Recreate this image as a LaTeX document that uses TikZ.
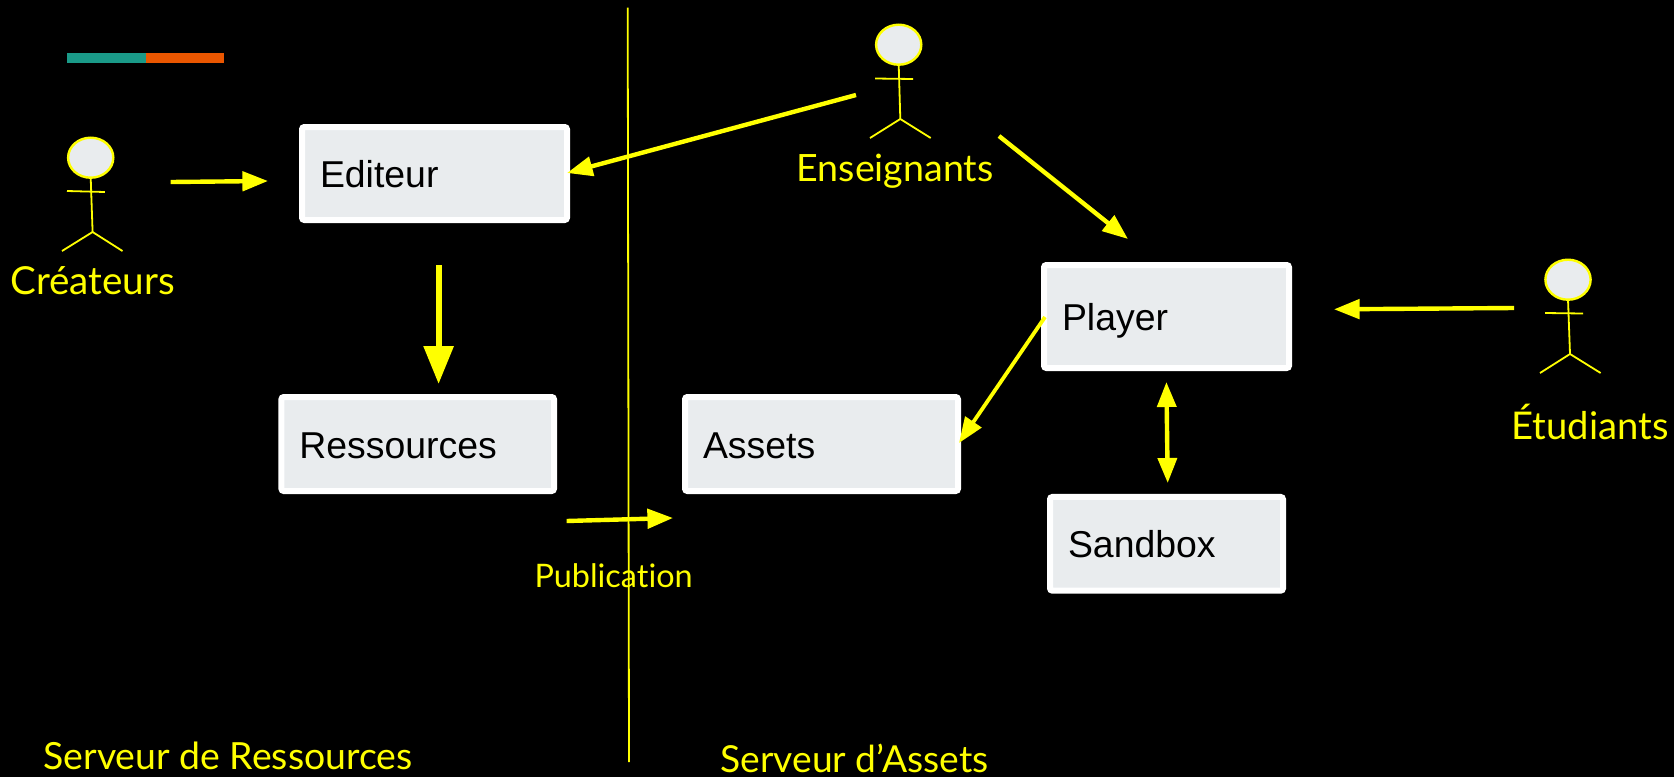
\documentclass[tikz,border=0pt]{standalone}
\usepackage{fontspec}
\setmainfont[Ligatures=CommonOff]{Lato}
\newfontfamily\boxfont{Liberation Sans}
\usetikzlibrary{arrows.meta,shapes.geometric}
\definecolor{ylw}{HTML}{FFFF00}
\definecolor{boxfill}{HTML}{E9ECEE}
\definecolor{tealbar}{HTML}{1A9A88}
\definecolor{orangebar}{HTML}{EA5600}
\tikzset{
  x=0.5pt,y=-0.5pt,
  boxnode/.style n args={2}{draw=white,fill=boxfill,line width=3pt,rounded corners=1.2pt,
    minimum width=#1,minimum height=#2,inner xsep=9pt,inner ysep=0pt,outer sep=0pt,
    align=left,text=black,font=\boxfont\fontsize{18.7}{20}\selectfont,text height=14pt,text depth=0pt},
  head/.style={ellipse,draw=ylw,fill=boxfill,line width=1.2pt,inner sep=0pt,outer sep=0pt,minimum width=22.6pt,minimum height=20pt},
  limb/.style={draw=ylw,line width=0.9pt},
  conn/.style={draw=ylw,line width=2.2pt,-{Triangle[length=12.8pt,width=9.6pt]}},
  connbig/.style={draw=ylw,line width=3pt,-{Triangle[length=19pt,width=14.5pt]}},
  connboth/.style={draw=ylw,line width=2.2pt,{Triangle[length=12.5pt,width=9.4pt]}-{Triangle[length=12.5pt,width=9.4pt]}},
  txt/.style={anchor=base west,inner sep=0pt,outer sep=0pt,text=ylw},
}
\begin{document}
\begin{tikzpicture}
\useasboundingbox (0,0) rectangle (1674,777);
\fill[black] (0,0) rectangle (1674,777);
% top bar
\fill[tealbar] (67,53) rectangle (146,63);
\fill[orangebar] (146,53) rectangle (224,63);
% boxes
\node[boxnode={132.5pt}{46.5pt},text width=114.5pt] (editeur) at (434.5,173.5) {Editeur};
\node[boxnode={122.5pt}{51.5pt},text width=104.5pt] (player) at (1166.5,316.5) {Player};
\node[boxnode={136.3pt}{47pt},text width=118.3pt] (ressources) at (417.7,444) {Ressources};
\node[boxnode={136.5pt}{47pt},text width=118.5pt] (assets) at (821.5,444) {Assets};
\node[boxnode={116.5pt}{46.85pt},text width=98.5pt] (sandbox) at (1166.5,543.8) {Sandbox};
% labels
\node[txt,font=\fontsize{19.3}{22}\selectfont] (lcreateurs) at (10.5,294) {Créateurs};
\node[txt,font=\fontsize{18.8}{22}\selectfont] (lenseignants) at (796.5,181) {Enseignants};
\node[txt,font=\fontsize{19.1}{22}\selectfont] (letudiants) at (1511.5,439) {Étudiants};
\node[txt,font=\fontsize{16.2}{18}\selectfont] (lpublication) at (534.5,587) {Publication};
\node[txt,font=\fontsize{18.7}{22}\selectfont] (lserveurr) at (43.5,769) {Serveur de Ressources};
\node[txt,font=\fontsize{18.6}{22}\selectfont] (lserveura) at (720.5,772) {Serveur d’Assets};
% divider
\coordinate (divtop) at (627.7,7.5);
\coordinate (divbot) at (629,762);
\draw[draw=ylw,line width=0.9pt] (divtop) -- (divbot);
% actors
\node[head] (hc) at (90.7,157.7) {};
\coordinate (hipc) at (92.6,232);
\draw[limb] (hc.south) -- (hipc);
\draw[limb] (67,191) -- (104.9,192);
\draw[limb] (62,251) -- (hipc) -- (122.5,251);
\node[head] (he) at (898.7,44.7) {};
\coordinate (hipe) at (900.3,119);
\draw[limb] (he.south) -- (hipe);
\draw[limb] (875,78.5) -- (913,79);
\draw[limb] (870,138) -- (hipe) -- (930.7,138);
\node[head] (hs) at (1568,279.7) {};
\coordinate (hips) at (1570,354);
\draw[limb] (hs.south) -- (hips);
\draw[limb] (1545,313) -- (1583,313.5);
\draw[limb] (1540,373) -- (hips) -- (1600.6,373);
% connector ends
\coordinate (c1a) at (170.7,182);
\coordinate (c1b) at (268,181);
\coordinate (c2a) at (438.6,265);
\coordinate (c2b) at (438.6,384);
\coordinate (c3a) at (856,95);
\coordinate (c3b) at (567,173);
\coordinate (c4a) at (999,136);
\coordinate (c4b) at (1128,239);
\coordinate (c5a) at (1045,317);
\coordinate (c5b) at (959,443);
\coordinate (c6a) at (1514,308);
\coordinate (c6b) at (1334,309.3);
\coordinate (c7a) at (1166.4,382);
\coordinate (c7b) at (1167.7,483);
\coordinate (c8a) at (566.6,521);
\coordinate (c8b) at (673,518);
% connectors
\draw[conn] (c1a) -- (c1b);
\draw[connbig] (c2a) -- (c2b);
\draw[conn] (c3a) -- (c3b);
\draw[conn] (c4a) -- (c4b);
\draw[conn,line width=1.9pt] (c5a) -- (c5b);
\draw[conn] (c6a) -- (c6b);
\draw[connboth] (c7a) -- (c7b);
\draw[conn] (c8a) -- (c8b);
\end{tikzpicture}
\end{document}
